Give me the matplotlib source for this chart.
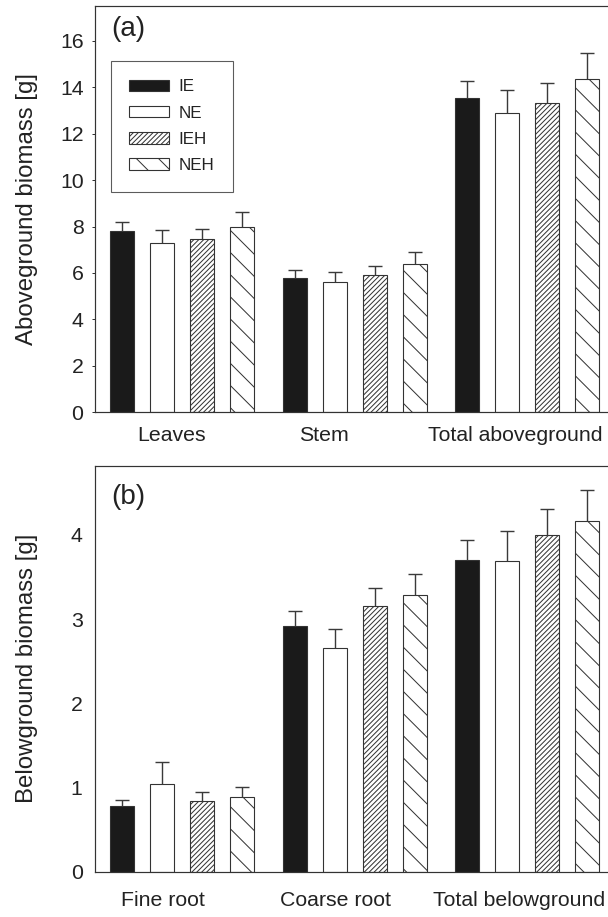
import numpy as np
import matplotlib
matplotlib.use("Agg")
import matplotlib.pyplot as plt

# ---------------- data ----------------
treatments = ["IE", "NE", "IEH", "NEH"]

above_categories = ["Leaves", "Stem", "Total aboveground"]
above_IE = [7.80, 5.78, 13.54]
above_NE = [7.31, 5.60, 12.89]
above_IEH = [7.47, 5.91, 13.34]
above_NEH = [8.00, 6.39, 14.36]
above_IE_se = [0.39, 0.36, 0.74]
above_NE_se = [0.56, 0.46, 0.99]
above_IEH_se = [0.44, 0.41, 0.85]
above_NEH_se = [0.62, 0.52, 1.13]

below_categories = ["Fine root", "Coarse root", "Total belowground"]
below_IE = [0.78, 2.92, 3.70]
below_NE = [1.04, 2.66, 3.69]
below_IEH = [0.84, 3.16, 4.00]
below_NEH = [0.89, 3.28, 4.16]
below_IE_se = [0.07, 0.18, 0.24]
below_NE_se = [0.26, 0.22, 0.36]
below_IEH_se = [0.11, 0.21, 0.31]
below_NEH_se = [0.11, 0.26, 0.37]

above_yticks = [0, 2, 4, 6, 8, 10, 12, 14, 16]
below_yticks = [0, 1, 2, 3, 4]

# ---------------- styling ----------------
DPI = 400 / 3.0
W, H = 608, 917


def pt(px):
    return px * 72.0 / DPI


plt.rcParams["font.family"] = ["Liberation Sans", "DejaVu Sans"]
plt.rcParams["hatch.linewidth"] = pt(1.0)
plt.rcParams["hatch.color"] = "#333333"

EDGE = "#333333"
TXT = "#222222"
fills = ["#1a1a1a", "white", "white", "white"]
hatches = [None, None, "/" * 9, "\\\\"]

fig = plt.figure(figsize=(W / DPI, H / DPI), dpi=DPI)

ax_left, ax_right = 94.5, 614.5
top_box = (6.0, 412.3)
bot_box = (465.7, 871.7)

ax1 = fig.add_axes([ax_left / W, 1 - top_box[1] / H, (ax_right - ax_left) / W,
                    (top_box[1] - top_box[0]) / H])
ax2 = fig.add_axes([ax_left / W, 1 - bot_box[1] / H, (ax_right - ax_left) / W,
                    (bot_box[1] - bot_box[0]) / H])

group_step = 4.3
bar_w = 0.6
xlim = (-0.69, 12.28)


def draw(ax, vals, ses, cats, label_shift, yticks, ylim, ylabel, panel,
         tick_len, ytick_pad, xlab_pad, panel_y):
    ngrp = len(cats)
    base = np.arange(ngrp) * group_step
    for i, (v, s) in enumerate(zip(vals, ses)):
        x = base + i
        ax.bar(x, v, width=bar_w, color=fills[i], edgecolor=EDGE,
               linewidth=pt(1.1), hatch=hatches[i], label=treatments[i],
               zorder=2)
        _, caps, _ = ax.errorbar(x, v, yerr=[np.zeros(len(s)), s], fmt="none",
                                 ecolor="#3a3a3a", elinewidth=pt(1.4),
                                 capsize=pt(7), capthick=pt(1.4), zorder=3)
        caps[0].set_visible(False)
    ax.set_xlim(*xlim)
    ax.set_ylim(*ylim)
    ax.set_yticks(yticks)
    ax.set_yticklabels([str(t) for t in yticks], fontsize=11.5, color=TXT)
    centers = base + 1.5 + np.array(label_shift)
    ax.set_xticks(centers)
    ax.set_xticklabels(cats, fontsize=11.5, color=TXT)
    ax.tick_params(axis="x", length=0, pad=pt(xlab_pad))
    ax.tick_params(axis="y", length=pt(tick_len), width=pt(1), color=EDGE,
                   direction="out", pad=pt(ytick_pad))
    for sp in ax.spines.values():
        sp.set_color(EDGE)
        sp.set_linewidth(pt(1.2))
    ax.set_ylabel(ylabel, fontsize=13.0, color=TXT)
    ax.yaxis.set_label_coords(-0.108, 0.5)
    ax.text(0.033, panel_y, panel, transform=ax.transAxes, fontsize=15,
            color=TXT, ha="left", va="center")


draw(ax1, [above_IE, above_NE, above_IEH, above_NEH],
     [above_IE_se, above_NE_se, above_IEH_se, above_NEH_se],
     above_categories, [-0.28, -0.76, -0.30], above_yticks, (0, 17.5),
     "Aboveground biomass [g]", "(a)", 3.5, 7.5, 14, 0.943)

draw(ax2, [below_IE, below_NE, below_IEH, below_NEH],
     [below_IE_se, below_NE_se, below_IEH_se, below_NEH_se],
     below_categories, [-0.49, -0.48, -0.19], below_yticks, (0, 4.82),
     "Belowground biomass [g]", "(b)", 0, 12, 19, 0.924)

leg = ax1.legend(loc="upper left", bbox_to_anchor=(0.0315, 0.8646),
                 borderaxespad=0, fontsize=9.2, frameon=True, fancybox=False,
                 handlelength=2.35, handleheight=0.66, handletextpad=0.55,
                 labelspacing=0.66, borderpad=1.08, labelcolor=TXT)
fr = leg.get_frame()
fr.set_edgecolor(EDGE)
fr.set_linewidth(pt(1.1))

fig.savefig("out.png", dpi=DPI)
